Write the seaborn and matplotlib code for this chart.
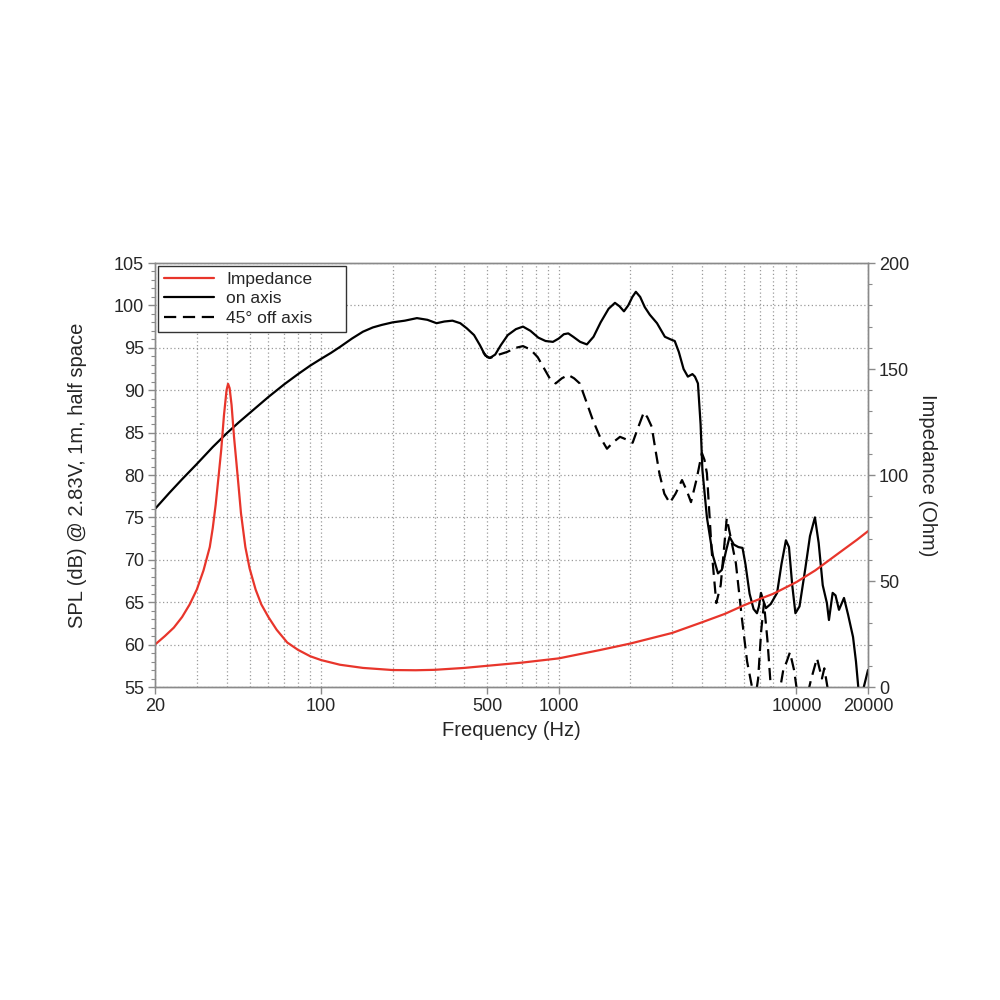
import numpy as np
import pandas as pd
import matplotlib
matplotlib.use("Agg")
import matplotlib.pyplot as plt
from matplotlib.ticker import FixedLocator, MultipleLocator, NullFormatter, FixedFormatter
from matplotlib.lines import Line2D
import seaborn as sns

# ---------------- data ----------------
on_freq = [20, 23, 26, 30, 35, 40, 45, 50, 60, 70, 80, 90, 100, 110, 120, 135, 150, 165, 180,
           200, 225, 253, 280, 306, 330, 357, 385, 410, 440, 466, 490, 513, 540, 570, 610, 660,
           707, 760, 820, 880, 945, 1000, 1050, 1096, 1150, 1230, 1313, 1400, 1500, 1620, 1723,
           1800, 1880, 1960, 2040, 2110, 2200, 2300, 2415, 2590, 2795, 2950, 3075, 3200, 3350,
           3492, 3650, 3740, 3850, 3950, 4020, 4200, 4450, 4675, 4850, 5050, 5230, 5450, 5700,
           5930, 6100, 6350, 6600, 6820, 6950, 7090, 7250, 7440, 7800, 8290, 8650, 9030, 9300,
           9600, 9900, 10300, 10900, 11400, 11960, 12400, 12900, 13430, 13700, 14200, 14600,
           15100, 15850, 16500, 17300, 17800, 18200, 18600, 19000, 19400, 20000]
on_spl = [76.0, 77.9, 79.5, 81.3, 83.3, 84.9, 86.2, 87.3, 89.2, 90.7, 91.9, 92.9, 93.7, 94.4,
          95.1, 96.1, 96.9, 97.4, 97.7, 98.0, 98.2, 98.5, 98.3, 97.9, 98.1, 98.2, 97.9, 97.3,
          96.5, 95.3, 94.1, 93.8, 94.2, 95.3, 96.5, 97.2, 97.5, 97.0, 96.2, 95.8, 95.7, 96.1,
          96.6, 96.7, 96.3, 95.7, 95.4, 96.3, 98.0, 99.6, 100.3, 99.9, 99.3, 100.0, 101.0,
          101.6, 101.0, 99.8, 98.9, 97.9, 96.3, 96.0, 95.8, 94.5, 92.5, 91.6, 91.9, 91.6, 90.8,
          86.0, 80.6, 75.0, 70.5, 68.4, 68.8, 71.0, 72.7, 71.8, 71.5, 71.4, 69.5, 66.0, 64.2,
          63.7, 64.5, 66.1, 65.2, 64.3, 64.8, 66.1, 69.5, 72.3, 71.5, 67.0, 63.7, 64.5, 69.0,
          72.8, 75.0, 72.0, 67.0, 64.9, 62.9, 66.1, 65.8, 64.1, 65.5, 63.5, 60.9, 58.0, 55.0,
          54.0, 54.5, 55.5, 57.0]

off_freq = [480, 500, 513, 560, 605, 660, 707, 760, 815, 870, 920, 970, 1030, 1096, 1160, 1225,
            1300, 1390, 1490, 1595, 1700, 1810, 1920, 2045, 2150, 2280, 2360, 2460, 2550, 2650,
            2780, 2930, 3100, 3300, 3450, 3600, 3800, 4000, 4100, 4200, 4400, 4600, 4800, 5090,
            5300, 5560, 5900, 6200, 6500, 6700, 6900, 7100, 7300, 7550, 7800, 8100, 8500, 8800,
            9100, 9390, 9770, 10000, 10500, 11000, 11500, 12200, 12800, 13100, 13500, 14000]
off_spl = [94.5, 93.9, 93.8, 94.2, 94.5, 95.0, 95.2, 94.8, 93.9, 92.5, 91.3, 90.8, 91.4, 91.8,
           91.4, 90.8, 88.8, 86.5, 84.5, 83.1, 83.9, 84.5, 84.2, 83.8, 85.5, 87.4, 86.8, 85.7,
           83.0, 80.2, 77.8, 76.7, 77.8, 79.4, 78.2, 76.8, 79.5, 82.6, 81.8, 80.2, 71.0, 64.9,
           67.0, 74.9, 72.5, 69.6, 63.0, 58.0, 55.0, 53.5, 56.0, 61.5, 64.9, 60.5, 55.0, 52.0,
           54.5, 57.0, 58.0, 59.1, 57.0, 55.0, 52.0, 53.5, 55.8, 58.4, 56.0, 57.2, 55.0, 52.0]

imp_freq = [20, 22, 24, 26, 28, 30, 32, 34, 35, 36, 37, 38, 39, 40, 40.6, 41.2, 42, 43, 44, 45,
            46, 48, 50, 53, 56, 60, 65, 72, 80, 90, 100, 120, 150, 200, 250, 300, 400, 500, 700,
            1000, 1500, 2000, 3000, 4000, 5000, 6000, 7000, 8000, 10000, 12000, 15000, 18000,
            20000]
imp_ohm = [20, 24, 28, 33, 39, 46, 55, 66, 75, 86, 99, 112, 128, 140, 143, 141, 133, 118, 106,
           94, 82, 66, 56, 46, 39, 33, 27, 21, 17.5, 14.5, 12.7, 10.5, 9, 8, 7.9, 8.1, 9, 10,
           11.5, 13.5, 17.5, 20.5, 25.5, 30.5, 34.5, 38.5, 41.5, 44, 49.5, 55, 63, 69.5, 73.5]

x_tick_vals = [20, 100, 500, 1000, 10000, 20000]
x_tick_labels = ["20", "100", "500", "1000", "10000", "20000"]
legend_labels = ["Impedance", "on axis", "45° off axis"]

# ---------------- style ----------------
sns.set_style("white")
plt.rcParams["font.family"] = ["Liberation Sans", "DejaVu Sans"]

RED = "#e8352b"
GRID = "#9a9a9a"
SPINE = "#8a8a8a"
LW = 1.6

fig = plt.figure(figsize=(10, 10), dpi=100)
ax = fig.add_axes([0.155, 0.313, 0.713, 0.424])
ax2 = ax.twinx()

df_on = pd.DataFrame({"f": on_freq, "spl": on_spl})
df_off = pd.DataFrame({"f": off_freq, "spl": off_spl})
df_imp = pd.DataFrame({"f": imp_freq, "z": imp_ohm})

sns.lineplot(data=df_on, x="f", y="spl", ax=ax, color="black", lw=LW, legend=False, zorder=3)
sns.lineplot(data=df_off, x="f", y="spl", ax=ax, color="black", lw=LW, legend=False,
             dashes=False, zorder=3)
ax.lines[-1].set_dashes((5.5, 3))
sns.lineplot(data=df_imp, x="f", y="z", ax=ax2, color=RED, lw=LW, legend=False, zorder=2)
for ln in ax.lines + ax2.lines:
    ln.set_solid_joinstyle("round")
    ln.set_dash_joinstyle("round")

ax.set_xscale("log")
ax.set_xlim(20, 20000)
ax.set_ylim(55, 105)
ax2.set_ylim(0, 200)

# x ticks
ax.xaxis.set_major_locator(FixedLocator(x_tick_vals))
ax.xaxis.set_major_formatter(FixedFormatter(x_tick_labels))
minor_x = [m * 10 ** e for e in range(1, 5) for m in range(2, 10)]
minor_x = [v for v in minor_x if 20 < v < 20000 and v not in x_tick_vals]
ax.xaxis.set_minor_locator(FixedLocator(minor_x))
ax.xaxis.set_minor_formatter(NullFormatter())

ax.yaxis.set_major_locator(MultipleLocator(5))
ax.yaxis.set_minor_locator(MultipleLocator(1))
ax2.yaxis.set_major_locator(MultipleLocator(50))
ax2.yaxis.set_minor_locator(MultipleLocator(10))

ax.grid(which="major", axis="both", ls=(0, (1, 2)), color=GRID, lw=0.9)
ax.grid(which="minor", axis="x", ls=(0, (1, 2)), color=GRID, lw=0.9)
ax.set_axisbelow(True)

ax.tick_params(axis="x", which="major", direction="out", length=5, width=1, color=SPINE,
               labelsize=13, pad=3, bottom=True)
ax.tick_params(axis="x", which="minor", length=0)
ax.tick_params(axis="y", which="major", direction="out", length=5, width=1, color=SPINE,
               labelsize=13, pad=3, left=True)
ax.tick_params(axis="y", which="minor", direction="out", length=3, width=0.8, color=SPINE,
               left=True)
ax2.tick_params(axis="y", which="major", direction="out", length=5, width=1, color=SPINE,
                labelsize=13, pad=3, right=True)
ax2.tick_params(axis="y", which="minor", direction="out", length=3, width=0.8, color=SPINE,
                right=True)

for a in (ax, ax2):
    for s in a.spines.values():
        s.set_color(SPINE)
        s.set_linewidth(1.0)
        s.set_visible(True)

ax.set_xlabel("Frequency (Hz)", fontsize=14.5, labelpad=4)
ax.set_ylabel("SPL (dB) @ 2.83V, 1m, half space", fontsize=14.5, labelpad=19)
ax2.set_ylabel("Impedance (Ohm)", fontsize=14.5, rotation=270, labelpad=20)

handles = [Line2D([], [], color=RED, lw=LW),
           Line2D([], [], color="black", lw=LW),
           Line2D([], [], color="black", lw=LW, dashes=(5.5, 3))]
leg = ax2.legend(handles, legend_labels, loc="upper left",
                 bbox_to_anchor=(0.004, 0.5, 0.264, 0.494), mode="expand",
                 fontsize=12.5, frameon=True, fancybox=False, framealpha=1, edgecolor="#333333",
                 handlelength=2.9, handletextpad=0.7, borderpad=0.35, labelspacing=0.25,
                 borderaxespad=0)
leg.get_frame().set_linewidth(1.0)

fig.savefig("out.png", dpi=100)
